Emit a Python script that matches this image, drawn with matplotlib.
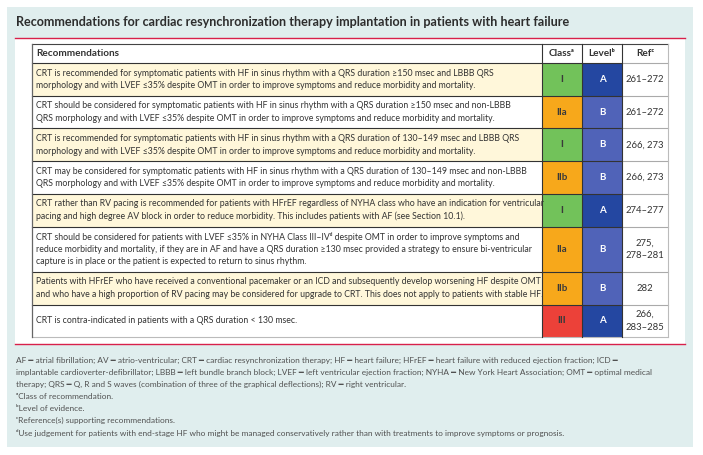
import matplotlib
matplotlib.use("Agg")
import matplotlib.pyplot as plt
from matplotlib.patches import Rectangle

# ── Data ──────────────────────────────────────────────────────────────────────
TITLE = ("Recommendations for cardiac resynchronization therapy implantation "
         "in patients with heart failure")

headers = ["Recommendations", "Class\u1d43", "Level\u1d47", "Ref\u1d9c"]

recommendations = [
    ["CRT is recommended for symptomatic patients with HF in sinus rhythm with a QRS duration \u2265150 msec and LBBB QRS",
     "morphology and with LVEF \u226435% despite OMT in order to improve symptoms and reduce morbidity and mortality."],
    ["CRT should be considered for symptomatic patients with HF in sinus rhythm with a QRS duration \u2265150 msec and non-LBBB",
     "QRS morphology and with LVEF \u226435% despite OMT in order to improve symptoms and reduce morbidity and mortality."],
    ["CRT is recommended for symptomatic patients with HF in sinus rhythm with a QRS duration of 130\u2013149 msec and LBBB QRS",
     "morphology and with LVEF \u226435% despite OMT in order to improve symptoms and reduce morbidity and mortality."],
    ["CRT may be considered for symptomatic patients with HF in sinus rhythm with a QRS duration of 130\u2013149 msec and non-LBBB",
     "QRS morphology and with LVEF \u226435% despite OMT in order to improve symptoms and reduce morbidity and mortality."],
    ["CRT rather than RV pacing is recommended for patients with HFrEF regardless of NYHA class who have an indication for ventricular",
     "pacing and high degree AV block in order to reduce morbidity. This includes patients with AF (see Section 10.1)."],
    ["CRT should be considered for patients with LVEF \u226435% in NYHA Class III\u2013IV\u1d48 despite OMT in order to improve symptoms and",
     "reduce morbidity and mortality, if they are in AF and have a QRS duration \u2265130 msec provided a strategy to ensure bi-ventricular",
     "capture is in place or the patient is expected to return to sinus rhythm."],
    ["Patients with HFrEF who have received a conventional pacemaker or an ICD and subsequently develop worsening HF despite OMT",
     "and who have a high proportion of RV pacing may be considered for upgrade to CRT. This does not apply to patients with stable HF."],
    ["CRT is contra-indicated in patients with a QRS duration < 130 msec."],
]
classes = ["I", "IIa", "I", "IIb", "I", "IIa", "IIb", "III"]
levels = ["A", "B", "B", "B", "A", "B", "B", "A"]
refs = [["261\u2013272"], ["261\u2013272"], ["266, 273"], ["266, 273"],
        ["274\u2013277"], ["275,", "278\u2013281"], ["282"], ["266,", "283\u2013285"]]

footnotes = [
    "AF \u2501 atrial fibrillation; AV \u2501 atrio-ventricular; CRT \u2501 cardiac resynchronization therapy; HF \u2501 heart failure; HFrEF \u2501 heart failure with reduced ejection fraction; ICD \u2501",
    "implantable cardioverter-defibrillator; LBBB \u2501 left bundle branch block; LVEF \u2501 left ventricular ejection fraction; NYHA \u2501 New York Heart Association; OMT \u2501 optimal medical",
    "therapy; QRS \u2501 Q, R and S waves (combination of three of the graphical deflections); RV \u2501 right ventricular.",
    "\u1d43Class of recommendation.",
    "\u1d47Level of evidence.",
    "\u1d9cReference(s) supporting recommendations.",
    "\u1d48Use judgement for patients with end-stage HF who might be managed conservatively rather than with treatments to improve symptoms or prognosis.",
]

# ── Style ─────────────────────────────────────────────────────────────────────
FONT = ["Lato", "DejaVu Sans"]
TEXT = "#333333"
TEAL = "#e0eeee"
CREAM = "#fff7da"
RED_LINE = "#d8204a"
class_colors = {"I": "#72c25a", "IIa": "#f7a81b", "IIb": "#f7a81b", "III": "#ec4139"}
level_colors = {"A": "#2447a1", "B": "#5063b8"}

COLS = [32, 542, 582, 622, 668]
HEAD_TOP, HEAD_BOT = 44, 63
LINE_H = 12.6
BODY_FS = 6.3

fig = plt.figure(figsize=(7.03, 4.55), dpi=100)
ax = fig.add_axes([0, 0, 1, 1])
ax.set_xlim(0, 703)
ax.set_ylim(455, 0)
ax.axis("off")

# panels
ax.add_patch(Rectangle((7, 7), 686, 440, color=TEAL, lw=0))
ax.add_patch(Rectangle((15, 38), 670, 306, color="white", lw=0))
ax.plot([15, 685], [38, 38], color=RED_LINE, lw=1.0)
ax.plot([15, 685], [344, 344], color=RED_LINE, lw=1.0)

ax.text(16, 22, TITLE, fontsize=9.1, fontweight="bold", color="#2d2d2d",
        family=FONT, va="center", ha="left")

# header
ax.add_patch(Rectangle((COLS[0], HEAD_TOP), COLS[-1] - COLS[0], HEAD_BOT - HEAD_TOP,
                       facecolor="white", edgecolor="none"))
hy = (HEAD_TOP + HEAD_BOT) / 2
ax.text(COLS[0] + 4, hy, headers[0], fontsize=7.2, fontweight="bold", color=TEXT,
        family=FONT, va="center", ha="left")
for i in range(1, 4):
    ax.text((COLS[i] + COLS[i + 1]) / 2, hy, headers[i], fontsize=7.2, fontweight="bold",
            color=TEXT, family=FONT, va="center", ha="center")

# rows
y = HEAD_BOT
row_edges = [y]
for r, lines in enumerate(recommendations):
    n = max(len(lines), len(refs[r]))
    h = 7.5 + LINE_H * n
    y0, y1 = y, y + h
    yc = (y0 + y1) / 2
    bg = CREAM if r % 2 == 0 else "white"
    ax.add_patch(Rectangle((COLS[0], y0), COLS[1] - COLS[0], h, facecolor=bg, edgecolor="none"))
    ax.add_patch(Rectangle((COLS[1], y0), COLS[2] - COLS[1], h,
                           facecolor=class_colors[classes[r]], edgecolor="none"))
    ax.add_patch(Rectangle((COLS[2], y0), COLS[3] - COLS[2], h,
                           facecolor=level_colors[levels[r]], edgecolor="none"))
    for k, line in enumerate(lines):
        ly = yc + (k - (len(lines) - 1) / 2) * LINE_H
        ax.text(COLS[0] + 4, ly, line, fontsize=BODY_FS, color=TEXT, family=FONT,
                va="center", ha="left")
    ax.text((COLS[1] + COLS[2]) / 2, yc, classes[r], fontsize=7, fontweight="bold",
            color="#3a3a3a", family=FONT, va="center", ha="center")
    ax.text((COLS[2] + COLS[3]) / 2, yc, levels[r], fontsize=7, fontweight="bold",
            color="white", family=FONT, va="center", ha="center")
    for k, line in enumerate(refs[r]):
        ly = yc + (k - (len(refs[r]) - 1) / 2) * LINE_H
        ax.text((COLS[3] + COLS[4]) / 2, ly, line, fontsize=6.8, color=TEXT, family=FONT,
                va="center", ha="center")
    y = y1
    row_edges.append(y)

bottom = row_edges[-1]
# grid lines
ax.plot([COLS[0], COLS[-1]], [HEAD_TOP, HEAD_TOP], color="#444444", lw=0.8)
for e in row_edges[:-1]:
    ax.plot([COLS[0], COLS[3]], [e, e], color="#333333", lw=0.8)
    ax.plot([COLS[3], COLS[4]], [e, e], color="#aaaaaa", lw=0.8)
ax.plot([COLS[0], COLS[-1]], [bottom, bottom], color="#bbbbbb", lw=0.8)
ax.plot([COLS[0], COLS[0]], [HEAD_TOP, bottom], color="#666666", lw=0.9)
for cx in COLS[1:4]:
    ax.plot([cx, cx], [HEAD_TOP, bottom], color="#333333", lw=0.8)
ax.plot([COLS[4], COLS[4]], [HEAD_TOP, bottom], color="#bbbbbb", lw=0.8)

# footnotes
for k, line in enumerate(footnotes):
    ax.text(16, 360 + k * 12.1, line, fontsize=5.95, color="#505050", family=FONT,
            va="center", ha="left")

fig.savefig("out.png", dpi=100)
